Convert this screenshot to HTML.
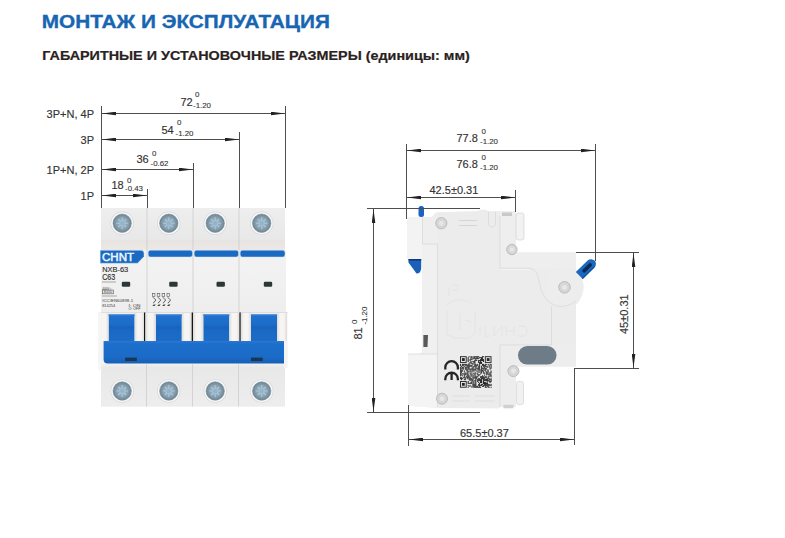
<!DOCTYPE html>
<html><head><meta charset="utf-8">
<style>
html,body{margin:0;padding:0;background:#fff;width:785px;height:538px;overflow:hidden}
svg{position:absolute;left:0;top:0}
text{font-family:"Liberation Sans",sans-serif}
</style></head>
<body>
<svg width="785" height="538" viewBox="0 0 785 538">
<defs>
  <marker id="ar" viewBox="0 0 14 4" refX="14" refY="2" markerWidth="14" markerHeight="4" markerUnits="userSpaceOnUse" orient="auto-start-reverse">
    <path d="M0,0.2 L14,2 L0,3.8 z" fill="#222"/>
  </marker>
  <linearGradient id="gTop" x1="0" y1="0" x2="0" y2="1"><stop offset="0" stop-color="#eeeeee"/><stop offset="1" stop-color="#e8e8e8"/></linearGradient>
  <linearGradient id="gBand" x1="0" y1="0" x2="0" y2="1"><stop offset="0" stop-color="#e6e3e1"/><stop offset="1" stop-color="#ebe8e6"/></linearGradient>
  <linearGradient id="gBot" x1="0" y1="0" x2="0" y2="1"><stop offset="0" stop-color="#f0f0f0"/><stop offset="0.08" stop-color="#e8e8e8"/><stop offset="1" stop-color="#ededed"/></linearGradient>
  <linearGradient id="gFace" x1="0" y1="0" x2="0" y2="1"><stop offset="0" stop-color="#f3f3f3"/><stop offset="1" stop-color="#eeeeee"/></linearGradient>
  <linearGradient id="gTog" x1="0" y1="0" x2="0" y2="1"><stop offset="0" stop-color="#2072cd"/><stop offset="0.35" stop-color="#1c6dc9"/><stop offset="0.45" stop-color="#1764bd"/><stop offset="0.6" stop-color="#1a69c4"/><stop offset="1" stop-color="#1d6cc8"/></linearGradient>
  <linearGradient id="gBar" x1="0" y1="0" x2="0" y2="1"><stop offset="0" stop-color="#2a7ad4"/><stop offset="0.12" stop-color="#1d6fcc"/><stop offset="0.75" stop-color="#1b6ac6"/><stop offset="1" stop-color="#155fb4"/></linearGradient>
  <radialGradient id="gScrew" cx="0.5" cy="0.5" r="0.5"><stop offset="0" stop-color="#a2c2d6"/><stop offset="0.6" stop-color="#8aa4b4"/><stop offset="1" stop-color="#6c8290"/></radialGradient>
  <linearGradient id="gPil" x1="0" y1="0" x2="1" y2="0"><stop offset="0" stop-color="#dedcdb"/><stop offset="0.3" stop-color="#f6f5f4"/><stop offset="0.7" stop-color="#f6f5f4"/><stop offset="1" stop-color="#dedcdb"/></linearGradient>
</defs>
<g id="front">
<rect x="101" y="208" width="184" height="198.5" fill="#e8e8e8"/>
<rect x="101" y="208" width="46" height="32" fill="url(#gTop)"/>
<rect x="101" y="240" width="46" height="10" fill="url(#gBand)"/>
<rect x="101" y="250" width="46" height="62" fill="url(#gFace)"/>
<rect x="101" y="364" width="46" height="42" fill="url(#gBot)"/>
<rect x="147" y="208" width="46" height="32" fill="url(#gTop)"/>
<rect x="147" y="240" width="46" height="10" fill="url(#gBand)"/>
<rect x="147" y="250" width="46" height="62" fill="url(#gFace)"/>
<rect x="147" y="364" width="46" height="42" fill="url(#gBot)"/>
<line x1="147" y1="208" x2="147" y2="312" stroke="#cdcdcd" stroke-width="0.8"/>
<line x1="146.5" y1="364" x2="146.5" y2="406.5" stroke="#cdcdcd" stroke-width="0.8"/>
<rect x="193" y="208" width="46" height="32" fill="url(#gTop)"/>
<rect x="193" y="240" width="46" height="10" fill="url(#gBand)"/>
<rect x="193" y="250" width="46" height="62" fill="url(#gFace)"/>
<rect x="193" y="364" width="46" height="42" fill="url(#gBot)"/>
<line x1="193" y1="208" x2="193" y2="312" stroke="#cdcdcd" stroke-width="0.8"/>
<line x1="192.5" y1="364" x2="192.5" y2="406.5" stroke="#cdcdcd" stroke-width="0.8"/>
<rect x="239" y="208" width="46" height="32" fill="url(#gTop)"/>
<rect x="239" y="240" width="46" height="10" fill="url(#gBand)"/>
<rect x="239" y="250" width="47" height="62" fill="url(#gFace)"/>
<rect x="239" y="364" width="46" height="42" fill="url(#gBot)"/>
<line x1="239" y1="208" x2="239" y2="312" stroke="#cdcdcd" stroke-width="0.8"/>
<line x1="238.5" y1="364" x2="238.5" y2="406.5" stroke="#cdcdcd" stroke-width="0.8"/>
<rect x="98.5" y="312" width="189" height="52" fill="#f4f3f2"/>
<rect x="98.5" y="312" width="189" height="1.2" fill="#dedede"/>
<rect x="108.6" y="314.5" width="26" height="28" fill="url(#gTog)"/>
<rect x="134.6" y="313" width="9.40" height="28.5" fill="url(#gPil)"/>
<rect x="99" y="313" width="9.60" height="28.5" fill="url(#gPil)"/>
<rect x="108.6" y="314.5" width="26" height="1.5" fill="#2c7bd4"/>
<rect x="144.0" y="312.5" width="1.4" height="29" fill="#161616"/>
<rect x="155.8" y="314.5" width="26" height="28" fill="url(#gTog)"/>
<rect x="181.8" y="313" width="9.90" height="28.5" fill="url(#gPil)"/>
<rect x="145.40" y="313" width="10.40" height="28.5" fill="url(#gPil)"/>
<rect x="155.8" y="314.5" width="26" height="1.5" fill="#2c7bd4"/>
<rect x="191.7" y="312.5" width="1.4" height="29" fill="#161616"/>
<rect x="203.3" y="314.5" width="26" height="28" fill="url(#gTog)"/>
<rect x="229.3" y="313" width="10.10" height="28.5" fill="url(#gPil)"/>
<rect x="193.10" y="313" width="10.20" height="28.5" fill="url(#gPil)"/>
<rect x="203.3" y="314.5" width="26" height="1.5" fill="#2c7bd4"/>
<rect x="239.4" y="312.5" width="1.4" height="29" fill="#161616"/>
<rect x="251.0" y="314.5" width="26" height="28" fill="url(#gTog)"/>
<rect x="277.0" y="313" width="10" height="28.5" fill="url(#gPil)"/>
<rect x="240.80" y="313" width="10.20" height="28.5" fill="url(#gPil)"/>
<rect x="251.0" y="314.5" width="26" height="1.5" fill="#2c7bd4"/>
<circle cx="122.2" cy="223.2" r="11.6" fill="#cfcfcf" opacity="0.8"/>
<circle cx="122.2" cy="223.2" r="11" fill="#f8f8f8"/>
<circle cx="122.2" cy="223.2" r="9.2" fill="url(#gScrew)" stroke="#7a8e9a" stroke-width="0.6"/>
<path d="M116.2,223.2 L128.2,223.2 M122.2,217.2 L122.2,229.2 M118.2,219.2 L126.2,227.2 M118.2,227.2 L126.2,219.2" stroke="#c2d8e6" stroke-width="1.1" opacity="0.6"/>
<circle cx="122.2" cy="223.2" r="2.2" fill="#95b3c6"/>
<circle cx="122.2" cy="391" r="11.6" fill="#cfcfcf" opacity="0.8"/>
<circle cx="122.2" cy="391" r="11" fill="#f8f8f8"/>
<circle cx="122.2" cy="391" r="9.2" fill="url(#gScrew)" stroke="#7a8e9a" stroke-width="0.6"/>
<path d="M116.2,391 L128.2,391 M122.2,385 L122.2,397 M118.2,387 L126.2,395 M118.2,395 L126.2,387" stroke="#c2d8e6" stroke-width="1.1" opacity="0.6"/>
<circle cx="122.2" cy="391" r="2.2" fill="#95b3c6"/>
<rect x="121.8" y="281.8" width="8.4" height="5" rx="1.2" fill="#2b3836"/>
<circle cx="168.8" cy="223.2" r="11.6" fill="#cfcfcf" opacity="0.8"/>
<circle cx="168.8" cy="223.2" r="11" fill="#f8f8f8"/>
<circle cx="168.8" cy="223.2" r="9.2" fill="url(#gScrew)" stroke="#7a8e9a" stroke-width="0.6"/>
<path d="M162.8,223.2 L174.8,223.2 M168.8,217.2 L168.8,229.2 M164.8,219.2 L172.8,227.2 M164.8,227.2 L172.8,219.2" stroke="#c2d8e6" stroke-width="1.1" opacity="0.6"/>
<circle cx="168.8" cy="223.2" r="2.2" fill="#95b3c6"/>
<circle cx="168.8" cy="391" r="11.6" fill="#cfcfcf" opacity="0.8"/>
<circle cx="168.8" cy="391" r="11" fill="#f8f8f8"/>
<circle cx="168.8" cy="391" r="9.2" fill="url(#gScrew)" stroke="#7a8e9a" stroke-width="0.6"/>
<path d="M162.8,391 L174.8,391 M168.8,385 L168.8,397 M164.8,387 L172.8,395 M164.8,395 L172.8,387" stroke="#c2d8e6" stroke-width="1.1" opacity="0.6"/>
<circle cx="168.8" cy="391" r="2.2" fill="#95b3c6"/>
<rect x="169.20000000000002" y="281.8" width="8.4" height="5" rx="1.2" fill="#2b3836"/>
<rect x="148.2" y="250.2" width="44.3" height="6.8" rx="2.2" fill="#1a6ac2" stroke="#cfe0f2" stroke-width="0.5"/>
<circle cx="215.2" cy="223.2" r="11.6" fill="#cfcfcf" opacity="0.8"/>
<circle cx="215.2" cy="223.2" r="11" fill="#f8f8f8"/>
<circle cx="215.2" cy="223.2" r="9.2" fill="url(#gScrew)" stroke="#7a8e9a" stroke-width="0.6"/>
<path d="M209.2,223.2 L221.2,223.2 M215.2,217.2 L215.2,229.2 M211.2,219.2 L219.2,227.2 M211.2,227.2 L219.2,219.2" stroke="#c2d8e6" stroke-width="1.1" opacity="0.6"/>
<circle cx="215.2" cy="223.2" r="2.2" fill="#95b3c6"/>
<circle cx="215.2" cy="391" r="11.6" fill="#cfcfcf" opacity="0.8"/>
<circle cx="215.2" cy="391" r="11" fill="#f8f8f8"/>
<circle cx="215.2" cy="391" r="9.2" fill="url(#gScrew)" stroke="#7a8e9a" stroke-width="0.6"/>
<path d="M209.2,391 L221.2,391 M215.2,385 L215.2,397 M211.2,387 L219.2,395 M211.2,395 L219.2,387" stroke="#c2d8e6" stroke-width="1.1" opacity="0.6"/>
<circle cx="215.2" cy="391" r="2.2" fill="#95b3c6"/>
<rect x="216.5" y="281.8" width="8.4" height="5" rx="1.2" fill="#2b3836"/>
<rect x="194.2" y="250.2" width="44.3" height="6.8" rx="2.2" fill="#1a6ac2" stroke="#cfe0f2" stroke-width="0.5"/>
<circle cx="261.7" cy="223.2" r="11.6" fill="#cfcfcf" opacity="0.8"/>
<circle cx="261.7" cy="223.2" r="11" fill="#f8f8f8"/>
<circle cx="261.7" cy="223.2" r="9.2" fill="url(#gScrew)" stroke="#7a8e9a" stroke-width="0.6"/>
<path d="M255.7,223.2 L267.7,223.2 M261.7,217.2 L261.7,229.2 M257.7,219.2 L265.7,227.2 M257.7,227.2 L265.7,219.2" stroke="#c2d8e6" stroke-width="1.1" opacity="0.6"/>
<circle cx="261.7" cy="223.2" r="2.2" fill="#95b3c6"/>
<circle cx="261.7" cy="391" r="11.6" fill="#cfcfcf" opacity="0.8"/>
<circle cx="261.7" cy="391" r="11" fill="#f8f8f8"/>
<circle cx="261.7" cy="391" r="9.2" fill="url(#gScrew)" stroke="#7a8e9a" stroke-width="0.6"/>
<path d="M255.7,391 L267.7,391 M261.7,385 L261.7,397 M257.7,387 L265.7,395 M257.7,395 L265.7,387" stroke="#c2d8e6" stroke-width="1.1" opacity="0.6"/>
<circle cx="261.7" cy="391" r="2.2" fill="#95b3c6"/>
<rect x="263.8" y="281.8" width="8.4" height="5" rx="1.2" fill="#2b3836"/>
<rect x="240.2" y="250.2" width="44.8" height="6.8" rx="2.2" fill="#1a6ac2" stroke="#cfe0f2" stroke-width="0.5"/>
<path d="M100.2,250.3 L141,250.3 Q144,250.3 144,253.3 L144,256.5 L137.5,263.3 L100.2,263.3 Z" fill="#1a6ac2" stroke="#cfe0f2" stroke-width="0.5"/>
<text x="102" y="260.8" font-size="10" fill="#eef6ff" stroke="#eef6ff" stroke-width="0.45" textLength="32" lengthAdjust="spacingAndGlyphs">CHNT</text>
<text x="102.2" y="271.5" font-size="7.6" fill="#2e2e2e" stroke="#2e2e2e" stroke-width="0.15" textLength="26" lengthAdjust="spacingAndGlyphs">NXB-63</text>
<text x="102.2" y="279.9" font-size="8.4" fill="#2e2e2e" stroke="#2e2e2e" stroke-width="0.15" textLength="13" lengthAdjust="spacingAndGlyphs">C63</text>
<line x1="102" y1="282" x2="116" y2="282" stroke="#777" stroke-width="0.6"/>
<text x="102.2" y="289.6" font-size="4" fill="#3a3a3a" textLength="9" lengthAdjust="spacingAndGlyphs">400V~</text>
<rect x="102.3" y="290" width="11" height="3.8" fill="none" stroke="#555" stroke-width="0.6"/>
<text x="103.2" y="293.2" font-size="3.2" fill="#444" textLength="9" lengthAdjust="spacingAndGlyphs">3000</text>
<line x1="102" y1="296" x2="117" y2="296" stroke="#777" stroke-width="0.6"/>
<text x="102.2" y="301.6" font-size="4" fill="#3a3a3a" textLength="31" lengthAdjust="spacingAndGlyphs">ICC/EN60898-1</text>
<text x="102.2" y="307.1" font-size="4" fill="#3a3a3a" textLength="13" lengthAdjust="spacingAndGlyphs">814254</text>
<text x="128.5" y="307" font-size="3.6" fill="#3a3a3a" textLength="12" lengthAdjust="spacingAndGlyphs">I: ON</text>
<text x="128.5" y="310.2" font-size="3.6" fill="#3a3a3a" textLength="12" lengthAdjust="spacingAndGlyphs">O: OFF</text>
<g fill="#3a3a3a">
<rect x="152.3" y="293.6" width="2.6" height="2.8" fill="none" stroke="#555" stroke-width="0.6"/>
<path d="M152.5,297.2 L155.5,300 L152.8,303.2 L153.60000000000002,303.2 L156.3,300 L153.3,297.2 Z"/>
<path d="M152.3,306 L153.8,304.4 L155.8,304.4 L154.5,306 Z"/>
<rect x="157.20000000000002" y="293.6" width="2.6" height="2.8" fill="none" stroke="#555" stroke-width="0.6"/>
<path d="M157.4,297.2 L160.4,300 L157.70000000000002,303.2 L158.50000000000003,303.2 L161.20000000000002,300 L158.20000000000002,297.2 Z"/>
<path d="M157.20000000000002,306 L158.70000000000002,304.4 L160.70000000000002,304.4 L159.4,306 Z"/>
<rect x="162.10000000000002" y="293.6" width="2.6" height="2.8" fill="none" stroke="#555" stroke-width="0.6"/>
<path d="M162.3,297.2 L165.3,300 L162.60000000000002,303.2 L163.40000000000003,303.2 L166.10000000000002,300 L163.10000000000002,297.2 Z"/>
<path d="M162.10000000000002,306 L163.60000000000002,304.4 L165.60000000000002,304.4 L164.3,306 Z"/>
<rect x="167.0" y="293.6" width="2.6" height="2.8" fill="none" stroke="#555" stroke-width="0.6"/>
<path d="M167.2,297.2 L170.2,300 L167.5,303.2 L168.3,303.2 L171.0,300 L168.0,297.2 Z"/>
<path d="M167.0,306 L168.5,304.4 L170.5,304.4 L169.2,306 Z"/>
</g>
<rect x="98.3" y="312" width="3" height="58" fill="#f6f5f4"/>
<path d="M103.6,341 L284,341 L284,363.4 L107.6,363.4 Q103.6,363.4 103.6,359.4 Z" fill="url(#gBar)"/>
<rect x="125.1" y="357.6" width="11.7" height="3.4" fill="#1b3555"/>
<rect x="251" y="357.6" width="11.7" height="3.4" fill="#1b3555"/>
<rect x="284" y="341" width="3.5" height="27" fill="#f3f3f3"/>
</g><g id="side">
<path d="M407,217 L423,217 L423,259 L407,259 Z" fill="#f3f3f3"/>
<path d="M422,217 L432,217 Q435,212.3 438.5,212.2 L478,211 L480,209.8 L486,209.8 L488,211 L516,211 L516,252.5 L576,252.5 L576,366.5 L516,366.5 L516,407 L500,407 L499,408.5 L440,408 L411,406 Q408,405.5 408,403 L408,354 L420,354 L422,352 Z" fill="#ececec"/>
<path d="M408,354 L437,354 L437,407.5 L411,406 Q408,405.5 408,403 Z" fill="#f4f4f4"/>
<path d="M422,244 L437.5,244 L437.5,354 L422,354 Z" fill="#f0f0f0"/>
<path d="M422,217 L432,217 Q435,212.3 437.5,212.2 L437.5,244 L422,244 Z" fill="#eeeeee"/>
<path d="M500,345 L556,345 L576,345 L576,366.5 L516,366.5 L516,407 L500,407 Z" fill="#ededed"/>
<path d="M500,211 L516,211 L516,252.5 L576,252.5 L576,268.3 L500,268.3 Z" fill="#eeeeee"/>
<path d="M500.5,269.3 L530,269.3" stroke="#f7f7f7" stroke-width="1"/>
<circle cx="564.5" cy="287.3" r="19" fill="#ededed"/>
<path d="M576,270 Q584,278 583.5,287.3 Q583,298 576,305" fill="#ededed"/>
<g fill="none" stroke="#d9d9d9" stroke-width="0.8">
<path d="M422.5,217 L422.5,244 L437.5,244 L437.5,407"/>
<path d="M500,216 L500,268.3 L530,268.3 Q537,269 539,281 Q542,301 556,306 Q567,308 576,301"/>
<path d="M551.5,306 L551.5,345 L500,345 L500,407"/>
<path d="M408,354 L437.5,354"/>
<path d="M488.5,212 L488.5,225 Q492,229 495.5,225 L495.5,212"/>
<path d="M459,220.5 L477,220.5 M459,225.5 L477,225.5" stroke="#cfcfcf"/>
<path d="M452,396 L470,396 M475,396 L495,396 M452,401 L470,401 M475,401 L495,401" stroke="#dcdcdc"/>
</g>
<g fill="none" stroke="#e3e3e3" stroke-width="0.9">
<path d="M449,287 L449,296 M452,285 L458,285 L458,290 L452,290 M447,305 Q452,299 463,300 Q470,301 473,306 M447,310 L447,335 L455,338 L470,338 L475,333 L475,312 M460,313 L460,330 M465,320 L472,322"/>
<path d="M480,326 L480,336 M485,326 L485,336 L490,336 M494,326 L494,336 L502,326 L502,336 M506,326 L506,336 M506,331 L514,331 M514,326 L514,336 M518,326 L525,326 Q529,331 525,336 L518,336"/>
</g>
<rect x="516" y="213" width="8" height="27" rx="2.5" fill="#f2f2f2" stroke="#d2d2d2" stroke-width="0.7"/>
<rect x="516.5" y="381.5" width="7" height="23" rx="2" fill="#f1f1f1" stroke="#d4d4d4" stroke-width="0.7"/>
<rect x="502" y="212.5" width="10" height="3.5" fill="#c8c8c8"/>
<rect x="503.4" y="404.8" width="10" height="3.5" fill="#d0d0d0"/>
<rect x="418.5" y="206" width="5.5" height="11" rx="2.5" fill="#1b63c0"/>
<path d="M408.5,259 L421.2,259 L421.2,268 Q421,273.5 416.5,273.5 L408.5,262.5 Z" fill="#1a5fb8"/>
<rect x="408.5" y="259" width="12.7" height="1.6" fill="#0e3a78"/>
<path d="M423.4,335 L428,335 L427.5,347 L423.4,347 Z" fill="#595959"/>
<circle cx="441.3" cy="223.2" r="5.6" fill="#d6d6d6" stroke="#bcbcbc" stroke-width="1"/>
<circle cx="441.3" cy="223.2" r="2.52" fill="#e6e6e6"/>
<circle cx="511.9" cy="249.5" r="5.2" fill="#d6d6d6" stroke="#bcbcbc" stroke-width="1"/>
<circle cx="511.9" cy="249.5" r="2.34" fill="#e6e6e6"/>
<circle cx="564.5" cy="287.3" r="5.8" fill="#d6d6d6" stroke="#bcbcbc" stroke-width="1"/>
<circle cx="564.5" cy="287.3" r="2.61" fill="#e6e6e6"/>
<circle cx="513.4" cy="371.1" r="5.5" fill="#d6d6d6" stroke="#bcbcbc" stroke-width="1"/>
<circle cx="513.4" cy="371.1" r="2.48" fill="#e6e6e6"/>
<circle cx="442" cy="398.7" r="5.5" fill="#d6d6d6" stroke="#bcbcbc" stroke-width="1"/>
<circle cx="442" cy="398.7" r="2.48" fill="#e6e6e6"/>
<rect x="518" y="346" width="38.5" height="18.6" rx="9.3" fill="#6e7c87"/>
<g transform="translate(579.3,275.6) rotate(-44.5)"><path d="M0,-4.9 L16.5,-4.9 A4.9,4.9 0 0 1 16.5,4.9 L0,4.9 Z" fill="#1b66bf"/><path d="M0,3.6 L17,3.6 L16.5,4.9 L0,4.9 Z" fill="#114f9c"/><rect x="5" y="-1.9" width="12" height="3.8" rx="1.9" fill="#0b2a52"/></g>
<path d="M445.3,369.5 L445.3,367.5 A6.3,6.3 0 0 1 457.9,367.5 L457.9,369.5" fill="none" stroke="#262626" stroke-width="2.3"/>
<path d="M445.3,380.3 L445.3,379 A6.3,6.3 0 0 1 457.9,379 L457.9,380.3 M451.6,373 L451.6,380" fill="none" stroke="#262626" stroke-width="2.3"/>
<g fill="#262626">
<rect x="460.00" y="363.84" width="1.05" height="1.05"/>
<rect x="460.00" y="364.79" width="1.05" height="1.05"/>
<rect x="460.00" y="366.70" width="1.05" height="1.05"/>
<rect x="460.00" y="367.65" width="1.05" height="1.05"/>
<rect x="460.00" y="368.61" width="1.05" height="1.05"/>
<rect x="460.00" y="369.56" width="1.05" height="1.05"/>
<rect x="460.00" y="370.52" width="1.05" height="1.05"/>
<rect x="460.00" y="371.47" width="1.05" height="1.05"/>
<rect x="460.00" y="372.43" width="1.05" height="1.05"/>
<rect x="460.00" y="373.38" width="1.05" height="1.05"/>
<rect x="460.00" y="374.34" width="1.05" height="1.05"/>
<rect x="460.00" y="375.29" width="1.05" height="1.05"/>
<rect x="460.00" y="377.20" width="1.05" height="1.05"/>
<rect x="460.00" y="378.15" width="1.05" height="1.05"/>
<rect x="460.95" y="365.75" width="1.05" height="1.05"/>
<rect x="460.95" y="367.65" width="1.05" height="1.05"/>
<rect x="460.95" y="369.56" width="1.05" height="1.05"/>
<rect x="460.95" y="370.52" width="1.05" height="1.05"/>
<rect x="460.95" y="371.47" width="1.05" height="1.05"/>
<rect x="460.95" y="372.43" width="1.05" height="1.05"/>
<rect x="460.95" y="374.34" width="1.05" height="1.05"/>
<rect x="460.95" y="377.20" width="1.05" height="1.05"/>
<rect x="460.95" y="378.15" width="1.05" height="1.05"/>
<rect x="460.95" y="379.11" width="1.05" height="1.05"/>
<rect x="461.91" y="363.84" width="1.05" height="1.05"/>
<rect x="461.91" y="364.79" width="1.05" height="1.05"/>
<rect x="461.91" y="366.70" width="1.05" height="1.05"/>
<rect x="461.91" y="367.65" width="1.05" height="1.05"/>
<rect x="461.91" y="369.56" width="1.05" height="1.05"/>
<rect x="461.91" y="370.52" width="1.05" height="1.05"/>
<rect x="461.91" y="373.38" width="1.05" height="1.05"/>
<rect x="461.91" y="375.29" width="1.05" height="1.05"/>
<rect x="461.91" y="378.15" width="1.05" height="1.05"/>
<rect x="462.86" y="363.84" width="1.05" height="1.05"/>
<rect x="462.86" y="364.79" width="1.05" height="1.05"/>
<rect x="462.86" y="366.70" width="1.05" height="1.05"/>
<rect x="462.86" y="367.65" width="1.05" height="1.05"/>
<rect x="462.86" y="368.61" width="1.05" height="1.05"/>
<rect x="462.86" y="373.38" width="1.05" height="1.05"/>
<rect x="462.86" y="377.20" width="1.05" height="1.05"/>
<rect x="463.82" y="363.84" width="1.05" height="1.05"/>
<rect x="463.82" y="365.75" width="1.05" height="1.05"/>
<rect x="463.82" y="370.52" width="1.05" height="1.05"/>
<rect x="463.82" y="371.47" width="1.05" height="1.05"/>
<rect x="463.82" y="373.38" width="1.05" height="1.05"/>
<rect x="463.82" y="374.34" width="1.05" height="1.05"/>
<rect x="463.82" y="375.29" width="1.05" height="1.05"/>
<rect x="463.82" y="376.25" width="1.05" height="1.05"/>
<rect x="463.82" y="377.20" width="1.05" height="1.05"/>
<rect x="463.82" y="379.11" width="1.05" height="1.05"/>
<rect x="464.77" y="363.84" width="1.05" height="1.05"/>
<rect x="464.77" y="364.79" width="1.05" height="1.05"/>
<rect x="464.77" y="366.70" width="1.05" height="1.05"/>
<rect x="464.77" y="367.65" width="1.05" height="1.05"/>
<rect x="464.77" y="368.61" width="1.05" height="1.05"/>
<rect x="464.77" y="372.43" width="1.05" height="1.05"/>
<rect x="464.77" y="373.38" width="1.05" height="1.05"/>
<rect x="464.77" y="374.34" width="1.05" height="1.05"/>
<rect x="464.77" y="377.20" width="1.05" height="1.05"/>
<rect x="464.77" y="378.15" width="1.05" height="1.05"/>
<rect x="464.77" y="379.11" width="1.05" height="1.05"/>
<rect x="465.73" y="363.84" width="1.05" height="1.05"/>
<rect x="465.73" y="364.79" width="1.05" height="1.05"/>
<rect x="465.73" y="366.70" width="1.05" height="1.05"/>
<rect x="465.73" y="367.65" width="1.05" height="1.05"/>
<rect x="465.73" y="368.61" width="1.05" height="1.05"/>
<rect x="465.73" y="369.56" width="1.05" height="1.05"/>
<rect x="465.73" y="373.38" width="1.05" height="1.05"/>
<rect x="465.73" y="376.25" width="1.05" height="1.05"/>
<rect x="466.68" y="364.79" width="1.05" height="1.05"/>
<rect x="466.68" y="365.75" width="1.05" height="1.05"/>
<rect x="466.68" y="366.70" width="1.05" height="1.05"/>
<rect x="466.68" y="368.61" width="1.05" height="1.05"/>
<rect x="466.68" y="369.56" width="1.05" height="1.05"/>
<rect x="466.68" y="370.52" width="1.05" height="1.05"/>
<rect x="466.68" y="371.47" width="1.05" height="1.05"/>
<rect x="466.68" y="372.43" width="1.05" height="1.05"/>
<rect x="466.68" y="373.38" width="1.05" height="1.05"/>
<rect x="466.68" y="374.34" width="1.05" height="1.05"/>
<rect x="466.68" y="375.29" width="1.05" height="1.05"/>
<rect x="466.68" y="376.25" width="1.05" height="1.05"/>
<rect x="466.68" y="377.20" width="1.05" height="1.05"/>
<rect x="466.68" y="378.15" width="1.05" height="1.05"/>
<rect x="467.64" y="357.15" width="1.05" height="1.05"/>
<rect x="467.64" y="358.11" width="1.05" height="1.05"/>
<rect x="467.64" y="359.06" width="1.05" height="1.05"/>
<rect x="467.64" y="360.02" width="1.05" height="1.05"/>
<rect x="467.64" y="360.97" width="1.05" height="1.05"/>
<rect x="467.64" y="363.84" width="1.05" height="1.05"/>
<rect x="467.64" y="364.79" width="1.05" height="1.05"/>
<rect x="467.64" y="365.75" width="1.05" height="1.05"/>
<rect x="467.64" y="366.70" width="1.05" height="1.05"/>
<rect x="467.64" y="367.65" width="1.05" height="1.05"/>
<rect x="467.64" y="368.61" width="1.05" height="1.05"/>
<rect x="467.64" y="370.52" width="1.05" height="1.05"/>
<rect x="467.64" y="371.47" width="1.05" height="1.05"/>
<rect x="467.64" y="373.38" width="1.05" height="1.05"/>
<rect x="467.64" y="374.34" width="1.05" height="1.05"/>
<rect x="467.64" y="375.29" width="1.05" height="1.05"/>
<rect x="467.64" y="376.25" width="1.05" height="1.05"/>
<rect x="467.64" y="377.20" width="1.05" height="1.05"/>
<rect x="467.64" y="381.02" width="1.05" height="1.05"/>
<rect x="467.64" y="381.97" width="1.05" height="1.05"/>
<rect x="467.64" y="382.93" width="1.05" height="1.05"/>
<rect x="467.64" y="384.84" width="1.05" height="1.05"/>
<rect x="467.64" y="386.75" width="1.05" height="1.05"/>
<rect x="468.59" y="356.20" width="1.05" height="1.05"/>
<rect x="468.59" y="362.88" width="1.05" height="1.05"/>
<rect x="468.59" y="363.84" width="1.05" height="1.05"/>
<rect x="468.59" y="364.79" width="1.05" height="1.05"/>
<rect x="468.59" y="365.75" width="1.05" height="1.05"/>
<rect x="468.59" y="366.70" width="1.05" height="1.05"/>
<rect x="468.59" y="367.65" width="1.05" height="1.05"/>
<rect x="468.59" y="368.61" width="1.05" height="1.05"/>
<rect x="468.59" y="371.47" width="1.05" height="1.05"/>
<rect x="468.59" y="375.29" width="1.05" height="1.05"/>
<rect x="468.59" y="376.25" width="1.05" height="1.05"/>
<rect x="468.59" y="377.20" width="1.05" height="1.05"/>
<rect x="468.59" y="378.15" width="1.05" height="1.05"/>
<rect x="468.59" y="379.11" width="1.05" height="1.05"/>
<rect x="468.59" y="382.93" width="1.05" height="1.05"/>
<rect x="468.59" y="385.79" width="1.05" height="1.05"/>
<rect x="469.55" y="359.06" width="1.05" height="1.05"/>
<rect x="469.55" y="360.02" width="1.05" height="1.05"/>
<rect x="469.55" y="361.93" width="1.05" height="1.05"/>
<rect x="469.55" y="364.79" width="1.05" height="1.05"/>
<rect x="469.55" y="365.75" width="1.05" height="1.05"/>
<rect x="469.55" y="368.61" width="1.05" height="1.05"/>
<rect x="469.55" y="369.56" width="1.05" height="1.05"/>
<rect x="469.55" y="370.52" width="1.05" height="1.05"/>
<rect x="469.55" y="373.38" width="1.05" height="1.05"/>
<rect x="469.55" y="377.20" width="1.05" height="1.05"/>
<rect x="469.55" y="378.15" width="1.05" height="1.05"/>
<rect x="469.55" y="379.11" width="1.05" height="1.05"/>
<rect x="469.55" y="380.06" width="1.05" height="1.05"/>
<rect x="469.55" y="382.93" width="1.05" height="1.05"/>
<rect x="469.55" y="384.84" width="1.05" height="1.05"/>
<rect x="470.50" y="356.20" width="1.05" height="1.05"/>
<rect x="470.50" y="357.15" width="1.05" height="1.05"/>
<rect x="470.50" y="358.11" width="1.05" height="1.05"/>
<rect x="470.50" y="359.06" width="1.05" height="1.05"/>
<rect x="470.50" y="360.97" width="1.05" height="1.05"/>
<rect x="470.50" y="361.93" width="1.05" height="1.05"/>
<rect x="470.50" y="362.88" width="1.05" height="1.05"/>
<rect x="470.50" y="364.79" width="1.05" height="1.05"/>
<rect x="470.50" y="365.75" width="1.05" height="1.05"/>
<rect x="470.50" y="368.61" width="1.05" height="1.05"/>
<rect x="470.50" y="370.52" width="1.05" height="1.05"/>
<rect x="470.50" y="371.47" width="1.05" height="1.05"/>
<rect x="470.50" y="372.43" width="1.05" height="1.05"/>
<rect x="470.50" y="373.38" width="1.05" height="1.05"/>
<rect x="470.50" y="374.34" width="1.05" height="1.05"/>
<rect x="470.50" y="375.29" width="1.05" height="1.05"/>
<rect x="470.50" y="376.25" width="1.05" height="1.05"/>
<rect x="470.50" y="378.15" width="1.05" height="1.05"/>
<rect x="470.50" y="379.11" width="1.05" height="1.05"/>
<rect x="470.50" y="381.97" width="1.05" height="1.05"/>
<rect x="470.50" y="382.93" width="1.05" height="1.05"/>
<rect x="470.50" y="385.79" width="1.05" height="1.05"/>
<rect x="471.45" y="356.20" width="1.05" height="1.05"/>
<rect x="471.45" y="357.15" width="1.05" height="1.05"/>
<rect x="471.45" y="359.06" width="1.05" height="1.05"/>
<rect x="471.45" y="362.88" width="1.05" height="1.05"/>
<rect x="471.45" y="364.79" width="1.05" height="1.05"/>
<rect x="471.45" y="365.75" width="1.05" height="1.05"/>
<rect x="471.45" y="367.65" width="1.05" height="1.05"/>
<rect x="471.45" y="368.61" width="1.05" height="1.05"/>
<rect x="471.45" y="369.56" width="1.05" height="1.05"/>
<rect x="471.45" y="374.34" width="1.05" height="1.05"/>
<rect x="471.45" y="378.15" width="1.05" height="1.05"/>
<rect x="471.45" y="379.11" width="1.05" height="1.05"/>
<rect x="471.45" y="380.06" width="1.05" height="1.05"/>
<rect x="471.45" y="381.02" width="1.05" height="1.05"/>
<rect x="471.45" y="381.97" width="1.05" height="1.05"/>
<rect x="471.45" y="382.93" width="1.05" height="1.05"/>
<rect x="471.45" y="386.75" width="1.05" height="1.05"/>
<rect x="472.41" y="358.11" width="1.05" height="1.05"/>
<rect x="472.41" y="360.97" width="1.05" height="1.05"/>
<rect x="472.41" y="362.88" width="1.05" height="1.05"/>
<rect x="472.41" y="363.84" width="1.05" height="1.05"/>
<rect x="472.41" y="366.70" width="1.05" height="1.05"/>
<rect x="472.41" y="367.65" width="1.05" height="1.05"/>
<rect x="472.41" y="368.61" width="1.05" height="1.05"/>
<rect x="472.41" y="369.56" width="1.05" height="1.05"/>
<rect x="472.41" y="370.52" width="1.05" height="1.05"/>
<rect x="472.41" y="371.47" width="1.05" height="1.05"/>
<rect x="472.41" y="373.38" width="1.05" height="1.05"/>
<rect x="472.41" y="375.29" width="1.05" height="1.05"/>
<rect x="472.41" y="376.25" width="1.05" height="1.05"/>
<rect x="472.41" y="377.20" width="1.05" height="1.05"/>
<rect x="472.41" y="379.11" width="1.05" height="1.05"/>
<rect x="472.41" y="380.06" width="1.05" height="1.05"/>
<rect x="472.41" y="383.88" width="1.05" height="1.05"/>
<rect x="472.41" y="384.84" width="1.05" height="1.05"/>
<rect x="472.41" y="385.79" width="1.05" height="1.05"/>
<rect x="473.36" y="356.20" width="1.05" height="1.05"/>
<rect x="473.36" y="357.15" width="1.05" height="1.05"/>
<rect x="473.36" y="358.11" width="1.05" height="1.05"/>
<rect x="473.36" y="360.97" width="1.05" height="1.05"/>
<rect x="473.36" y="361.93" width="1.05" height="1.05"/>
<rect x="473.36" y="365.75" width="1.05" height="1.05"/>
<rect x="473.36" y="366.70" width="1.05" height="1.05"/>
<rect x="473.36" y="368.61" width="1.05" height="1.05"/>
<rect x="473.36" y="369.56" width="1.05" height="1.05"/>
<rect x="473.36" y="373.38" width="1.05" height="1.05"/>
<rect x="473.36" y="375.29" width="1.05" height="1.05"/>
<rect x="473.36" y="377.20" width="1.05" height="1.05"/>
<rect x="473.36" y="378.15" width="1.05" height="1.05"/>
<rect x="473.36" y="381.02" width="1.05" height="1.05"/>
<rect x="473.36" y="381.97" width="1.05" height="1.05"/>
<rect x="473.36" y="382.93" width="1.05" height="1.05"/>
<rect x="473.36" y="383.88" width="1.05" height="1.05"/>
<rect x="473.36" y="384.84" width="1.05" height="1.05"/>
<rect x="473.36" y="385.79" width="1.05" height="1.05"/>
<rect x="473.36" y="386.75" width="1.05" height="1.05"/>
<rect x="474.32" y="356.20" width="1.05" height="1.05"/>
<rect x="474.32" y="357.15" width="1.05" height="1.05"/>
<rect x="474.32" y="358.11" width="1.05" height="1.05"/>
<rect x="474.32" y="360.02" width="1.05" height="1.05"/>
<rect x="474.32" y="360.97" width="1.05" height="1.05"/>
<rect x="474.32" y="361.93" width="1.05" height="1.05"/>
<rect x="474.32" y="362.88" width="1.05" height="1.05"/>
<rect x="474.32" y="363.84" width="1.05" height="1.05"/>
<rect x="474.32" y="364.79" width="1.05" height="1.05"/>
<rect x="474.32" y="365.75" width="1.05" height="1.05"/>
<rect x="474.32" y="368.61" width="1.05" height="1.05"/>
<rect x="474.32" y="369.56" width="1.05" height="1.05"/>
<rect x="474.32" y="371.47" width="1.05" height="1.05"/>
<rect x="474.32" y="373.38" width="1.05" height="1.05"/>
<rect x="474.32" y="374.34" width="1.05" height="1.05"/>
<rect x="474.32" y="376.25" width="1.05" height="1.05"/>
<rect x="474.32" y="377.20" width="1.05" height="1.05"/>
<rect x="474.32" y="380.06" width="1.05" height="1.05"/>
<rect x="474.32" y="383.88" width="1.05" height="1.05"/>
<rect x="474.32" y="384.84" width="1.05" height="1.05"/>
<rect x="474.32" y="385.79" width="1.05" height="1.05"/>
<rect x="474.32" y="386.75" width="1.05" height="1.05"/>
<rect x="475.27" y="356.20" width="1.05" height="1.05"/>
<rect x="475.27" y="358.11" width="1.05" height="1.05"/>
<rect x="475.27" y="359.06" width="1.05" height="1.05"/>
<rect x="475.27" y="360.02" width="1.05" height="1.05"/>
<rect x="475.27" y="363.84" width="1.05" height="1.05"/>
<rect x="475.27" y="364.79" width="1.05" height="1.05"/>
<rect x="475.27" y="365.75" width="1.05" height="1.05"/>
<rect x="475.27" y="366.70" width="1.05" height="1.05"/>
<rect x="475.27" y="367.65" width="1.05" height="1.05"/>
<rect x="475.27" y="368.61" width="1.05" height="1.05"/>
<rect x="475.27" y="369.56" width="1.05" height="1.05"/>
<rect x="475.27" y="372.43" width="1.05" height="1.05"/>
<rect x="475.27" y="373.38" width="1.05" height="1.05"/>
<rect x="475.27" y="375.29" width="1.05" height="1.05"/>
<rect x="475.27" y="376.25" width="1.05" height="1.05"/>
<rect x="475.27" y="377.20" width="1.05" height="1.05"/>
<rect x="475.27" y="378.15" width="1.05" height="1.05"/>
<rect x="475.27" y="379.11" width="1.05" height="1.05"/>
<rect x="475.27" y="380.06" width="1.05" height="1.05"/>
<rect x="475.27" y="381.02" width="1.05" height="1.05"/>
<rect x="475.27" y="381.97" width="1.05" height="1.05"/>
<rect x="475.27" y="382.93" width="1.05" height="1.05"/>
<rect x="475.27" y="383.88" width="1.05" height="1.05"/>
<rect x="475.27" y="384.84" width="1.05" height="1.05"/>
<rect x="475.27" y="385.79" width="1.05" height="1.05"/>
<rect x="475.27" y="386.75" width="1.05" height="1.05"/>
<rect x="476.23" y="356.20" width="1.05" height="1.05"/>
<rect x="476.23" y="357.15" width="1.05" height="1.05"/>
<rect x="476.23" y="358.11" width="1.05" height="1.05"/>
<rect x="476.23" y="360.02" width="1.05" height="1.05"/>
<rect x="476.23" y="364.79" width="1.05" height="1.05"/>
<rect x="476.23" y="365.75" width="1.05" height="1.05"/>
<rect x="476.23" y="367.65" width="1.05" height="1.05"/>
<rect x="476.23" y="370.52" width="1.05" height="1.05"/>
<rect x="476.23" y="376.25" width="1.05" height="1.05"/>
<rect x="476.23" y="377.20" width="1.05" height="1.05"/>
<rect x="476.23" y="378.15" width="1.05" height="1.05"/>
<rect x="476.23" y="385.79" width="1.05" height="1.05"/>
<rect x="476.23" y="386.75" width="1.05" height="1.05"/>
<rect x="477.18" y="356.20" width="1.05" height="1.05"/>
<rect x="477.18" y="357.15" width="1.05" height="1.05"/>
<rect x="477.18" y="358.11" width="1.05" height="1.05"/>
<rect x="477.18" y="363.84" width="1.05" height="1.05"/>
<rect x="477.18" y="364.79" width="1.05" height="1.05"/>
<rect x="477.18" y="367.65" width="1.05" height="1.05"/>
<rect x="477.18" y="368.61" width="1.05" height="1.05"/>
<rect x="477.18" y="370.52" width="1.05" height="1.05"/>
<rect x="477.18" y="372.43" width="1.05" height="1.05"/>
<rect x="477.18" y="373.38" width="1.05" height="1.05"/>
<rect x="477.18" y="374.34" width="1.05" height="1.05"/>
<rect x="477.18" y="376.25" width="1.05" height="1.05"/>
<rect x="477.18" y="379.11" width="1.05" height="1.05"/>
<rect x="477.18" y="380.06" width="1.05" height="1.05"/>
<rect x="477.18" y="381.02" width="1.05" height="1.05"/>
<rect x="477.18" y="385.79" width="1.05" height="1.05"/>
<rect x="477.18" y="386.75" width="1.05" height="1.05"/>
<rect x="478.14" y="356.20" width="1.05" height="1.05"/>
<rect x="478.14" y="358.11" width="1.05" height="1.05"/>
<rect x="478.14" y="360.02" width="1.05" height="1.05"/>
<rect x="478.14" y="360.97" width="1.05" height="1.05"/>
<rect x="478.14" y="361.93" width="1.05" height="1.05"/>
<rect x="478.14" y="365.75" width="1.05" height="1.05"/>
<rect x="478.14" y="366.70" width="1.05" height="1.05"/>
<rect x="478.14" y="367.65" width="1.05" height="1.05"/>
<rect x="478.14" y="368.61" width="1.05" height="1.05"/>
<rect x="478.14" y="369.56" width="1.05" height="1.05"/>
<rect x="478.14" y="371.47" width="1.05" height="1.05"/>
<rect x="478.14" y="374.34" width="1.05" height="1.05"/>
<rect x="478.14" y="375.29" width="1.05" height="1.05"/>
<rect x="478.14" y="378.15" width="1.05" height="1.05"/>
<rect x="478.14" y="379.11" width="1.05" height="1.05"/>
<rect x="478.14" y="380.06" width="1.05" height="1.05"/>
<rect x="478.14" y="381.97" width="1.05" height="1.05"/>
<rect x="478.14" y="383.88" width="1.05" height="1.05"/>
<rect x="478.14" y="384.84" width="1.05" height="1.05"/>
<rect x="478.14" y="386.75" width="1.05" height="1.05"/>
<rect x="479.09" y="357.15" width="1.05" height="1.05"/>
<rect x="479.09" y="360.02" width="1.05" height="1.05"/>
<rect x="479.09" y="361.93" width="1.05" height="1.05"/>
<rect x="479.09" y="362.88" width="1.05" height="1.05"/>
<rect x="479.09" y="363.84" width="1.05" height="1.05"/>
<rect x="479.09" y="364.79" width="1.05" height="1.05"/>
<rect x="479.09" y="365.75" width="1.05" height="1.05"/>
<rect x="479.09" y="366.70" width="1.05" height="1.05"/>
<rect x="479.09" y="367.65" width="1.05" height="1.05"/>
<rect x="479.09" y="368.61" width="1.05" height="1.05"/>
<rect x="479.09" y="369.56" width="1.05" height="1.05"/>
<rect x="479.09" y="371.47" width="1.05" height="1.05"/>
<rect x="479.09" y="374.34" width="1.05" height="1.05"/>
<rect x="479.09" y="378.15" width="1.05" height="1.05"/>
<rect x="479.09" y="379.11" width="1.05" height="1.05"/>
<rect x="479.09" y="380.06" width="1.05" height="1.05"/>
<rect x="479.09" y="382.93" width="1.05" height="1.05"/>
<rect x="479.09" y="383.88" width="1.05" height="1.05"/>
<rect x="479.09" y="384.84" width="1.05" height="1.05"/>
<rect x="479.09" y="385.79" width="1.05" height="1.05"/>
<rect x="479.09" y="386.75" width="1.05" height="1.05"/>
<rect x="480.05" y="357.15" width="1.05" height="1.05"/>
<rect x="480.05" y="359.06" width="1.05" height="1.05"/>
<rect x="480.05" y="360.02" width="1.05" height="1.05"/>
<rect x="480.05" y="360.97" width="1.05" height="1.05"/>
<rect x="480.05" y="361.93" width="1.05" height="1.05"/>
<rect x="480.05" y="362.88" width="1.05" height="1.05"/>
<rect x="480.05" y="369.56" width="1.05" height="1.05"/>
<rect x="480.05" y="371.47" width="1.05" height="1.05"/>
<rect x="480.05" y="373.38" width="1.05" height="1.05"/>
<rect x="480.05" y="376.25" width="1.05" height="1.05"/>
<rect x="480.05" y="377.20" width="1.05" height="1.05"/>
<rect x="480.05" y="379.11" width="1.05" height="1.05"/>
<rect x="480.05" y="380.06" width="1.05" height="1.05"/>
<rect x="480.05" y="381.02" width="1.05" height="1.05"/>
<rect x="480.05" y="381.97" width="1.05" height="1.05"/>
<rect x="480.05" y="384.84" width="1.05" height="1.05"/>
<rect x="480.05" y="386.75" width="1.05" height="1.05"/>
<rect x="481.00" y="357.15" width="1.05" height="1.05"/>
<rect x="481.00" y="358.11" width="1.05" height="1.05"/>
<rect x="481.00" y="359.06" width="1.05" height="1.05"/>
<rect x="481.00" y="360.02" width="1.05" height="1.05"/>
<rect x="481.00" y="361.93" width="1.05" height="1.05"/>
<rect x="481.00" y="362.88" width="1.05" height="1.05"/>
<rect x="481.00" y="365.75" width="1.05" height="1.05"/>
<rect x="481.00" y="366.70" width="1.05" height="1.05"/>
<rect x="481.00" y="367.65" width="1.05" height="1.05"/>
<rect x="481.00" y="368.61" width="1.05" height="1.05"/>
<rect x="481.00" y="369.56" width="1.05" height="1.05"/>
<rect x="481.00" y="370.52" width="1.05" height="1.05"/>
<rect x="481.00" y="371.47" width="1.05" height="1.05"/>
<rect x="481.00" y="372.43" width="1.05" height="1.05"/>
<rect x="481.00" y="376.25" width="1.05" height="1.05"/>
<rect x="481.00" y="377.20" width="1.05" height="1.05"/>
<rect x="481.00" y="378.15" width="1.05" height="1.05"/>
<rect x="481.00" y="379.11" width="1.05" height="1.05"/>
<rect x="481.00" y="380.06" width="1.05" height="1.05"/>
<rect x="481.00" y="381.02" width="1.05" height="1.05"/>
<rect x="481.00" y="381.97" width="1.05" height="1.05"/>
<rect x="481.00" y="383.88" width="1.05" height="1.05"/>
<rect x="481.00" y="384.84" width="1.05" height="1.05"/>
<rect x="481.95" y="356.20" width="1.05" height="1.05"/>
<rect x="481.95" y="357.15" width="1.05" height="1.05"/>
<rect x="481.95" y="358.11" width="1.05" height="1.05"/>
<rect x="481.95" y="359.06" width="1.05" height="1.05"/>
<rect x="481.95" y="360.02" width="1.05" height="1.05"/>
<rect x="481.95" y="363.84" width="1.05" height="1.05"/>
<rect x="481.95" y="364.79" width="1.05" height="1.05"/>
<rect x="481.95" y="367.65" width="1.05" height="1.05"/>
<rect x="481.95" y="369.56" width="1.05" height="1.05"/>
<rect x="481.95" y="370.52" width="1.05" height="1.05"/>
<rect x="481.95" y="375.29" width="1.05" height="1.05"/>
<rect x="481.95" y="376.25" width="1.05" height="1.05"/>
<rect x="481.95" y="377.20" width="1.05" height="1.05"/>
<rect x="481.95" y="378.15" width="1.05" height="1.05"/>
<rect x="481.95" y="383.88" width="1.05" height="1.05"/>
<rect x="481.95" y="385.79" width="1.05" height="1.05"/>
<rect x="482.91" y="356.20" width="1.05" height="1.05"/>
<rect x="482.91" y="359.06" width="1.05" height="1.05"/>
<rect x="482.91" y="360.02" width="1.05" height="1.05"/>
<rect x="482.91" y="360.97" width="1.05" height="1.05"/>
<rect x="482.91" y="363.84" width="1.05" height="1.05"/>
<rect x="482.91" y="364.79" width="1.05" height="1.05"/>
<rect x="482.91" y="365.75" width="1.05" height="1.05"/>
<rect x="482.91" y="367.65" width="1.05" height="1.05"/>
<rect x="482.91" y="368.61" width="1.05" height="1.05"/>
<rect x="482.91" y="370.52" width="1.05" height="1.05"/>
<rect x="482.91" y="371.47" width="1.05" height="1.05"/>
<rect x="482.91" y="372.43" width="1.05" height="1.05"/>
<rect x="482.91" y="376.25" width="1.05" height="1.05"/>
<rect x="482.91" y="377.20" width="1.05" height="1.05"/>
<rect x="482.91" y="378.15" width="1.05" height="1.05"/>
<rect x="482.91" y="381.02" width="1.05" height="1.05"/>
<rect x="482.91" y="381.97" width="1.05" height="1.05"/>
<rect x="482.91" y="382.93" width="1.05" height="1.05"/>
<rect x="482.91" y="384.84" width="1.05" height="1.05"/>
<rect x="482.91" y="385.79" width="1.05" height="1.05"/>
<rect x="483.86" y="364.79" width="1.05" height="1.05"/>
<rect x="483.86" y="365.75" width="1.05" height="1.05"/>
<rect x="483.86" y="366.70" width="1.05" height="1.05"/>
<rect x="483.86" y="367.65" width="1.05" height="1.05"/>
<rect x="483.86" y="369.56" width="1.05" height="1.05"/>
<rect x="483.86" y="372.43" width="1.05" height="1.05"/>
<rect x="483.86" y="373.38" width="1.05" height="1.05"/>
<rect x="483.86" y="375.29" width="1.05" height="1.05"/>
<rect x="483.86" y="377.20" width="1.05" height="1.05"/>
<rect x="483.86" y="378.15" width="1.05" height="1.05"/>
<rect x="483.86" y="380.06" width="1.05" height="1.05"/>
<rect x="483.86" y="381.97" width="1.05" height="1.05"/>
<rect x="483.86" y="382.93" width="1.05" height="1.05"/>
<rect x="483.86" y="383.88" width="1.05" height="1.05"/>
<rect x="483.86" y="384.84" width="1.05" height="1.05"/>
<rect x="484.82" y="363.84" width="1.05" height="1.05"/>
<rect x="484.82" y="364.79" width="1.05" height="1.05"/>
<rect x="484.82" y="365.75" width="1.05" height="1.05"/>
<rect x="484.82" y="367.65" width="1.05" height="1.05"/>
<rect x="484.82" y="368.61" width="1.05" height="1.05"/>
<rect x="484.82" y="369.56" width="1.05" height="1.05"/>
<rect x="484.82" y="370.52" width="1.05" height="1.05"/>
<rect x="484.82" y="376.25" width="1.05" height="1.05"/>
<rect x="484.82" y="377.20" width="1.05" height="1.05"/>
<rect x="484.82" y="380.06" width="1.05" height="1.05"/>
<rect x="484.82" y="381.97" width="1.05" height="1.05"/>
<rect x="484.82" y="382.93" width="1.05" height="1.05"/>
<rect x="484.82" y="383.88" width="1.05" height="1.05"/>
<rect x="484.82" y="384.84" width="1.05" height="1.05"/>
<rect x="484.82" y="385.79" width="1.05" height="1.05"/>
<rect x="484.82" y="386.75" width="1.05" height="1.05"/>
<rect x="485.77" y="363.84" width="1.05" height="1.05"/>
<rect x="485.77" y="365.75" width="1.05" height="1.05"/>
<rect x="485.77" y="367.65" width="1.05" height="1.05"/>
<rect x="485.77" y="368.61" width="1.05" height="1.05"/>
<rect x="485.77" y="371.47" width="1.05" height="1.05"/>
<rect x="485.77" y="372.43" width="1.05" height="1.05"/>
<rect x="485.77" y="373.38" width="1.05" height="1.05"/>
<rect x="485.77" y="374.34" width="1.05" height="1.05"/>
<rect x="485.77" y="376.25" width="1.05" height="1.05"/>
<rect x="485.77" y="377.20" width="1.05" height="1.05"/>
<rect x="485.77" y="379.11" width="1.05" height="1.05"/>
<rect x="485.77" y="380.06" width="1.05" height="1.05"/>
<rect x="485.77" y="382.93" width="1.05" height="1.05"/>
<rect x="485.77" y="383.88" width="1.05" height="1.05"/>
<rect x="485.77" y="384.84" width="1.05" height="1.05"/>
<rect x="485.77" y="386.75" width="1.05" height="1.05"/>
<rect x="486.73" y="365.75" width="1.05" height="1.05"/>
<rect x="486.73" y="366.70" width="1.05" height="1.05"/>
<rect x="486.73" y="369.56" width="1.05" height="1.05"/>
<rect x="486.73" y="371.47" width="1.05" height="1.05"/>
<rect x="486.73" y="372.43" width="1.05" height="1.05"/>
<rect x="486.73" y="373.38" width="1.05" height="1.05"/>
<rect x="486.73" y="378.15" width="1.05" height="1.05"/>
<rect x="486.73" y="379.11" width="1.05" height="1.05"/>
<rect x="486.73" y="380.06" width="1.05" height="1.05"/>
<rect x="486.73" y="382.93" width="1.05" height="1.05"/>
<rect x="486.73" y="383.88" width="1.05" height="1.05"/>
<rect x="486.73" y="384.84" width="1.05" height="1.05"/>
<rect x="486.73" y="385.79" width="1.05" height="1.05"/>
<rect x="487.68" y="363.84" width="1.05" height="1.05"/>
<rect x="487.68" y="369.56" width="1.05" height="1.05"/>
<rect x="487.68" y="370.52" width="1.05" height="1.05"/>
<rect x="487.68" y="371.47" width="1.05" height="1.05"/>
<rect x="487.68" y="373.38" width="1.05" height="1.05"/>
<rect x="487.68" y="374.34" width="1.05" height="1.05"/>
<rect x="487.68" y="376.25" width="1.05" height="1.05"/>
<rect x="487.68" y="377.20" width="1.05" height="1.05"/>
<rect x="487.68" y="378.15" width="1.05" height="1.05"/>
<rect x="487.68" y="380.06" width="1.05" height="1.05"/>
<rect x="487.68" y="383.88" width="1.05" height="1.05"/>
<rect x="487.68" y="384.84" width="1.05" height="1.05"/>
<rect x="487.68" y="385.79" width="1.05" height="1.05"/>
<rect x="487.68" y="386.75" width="1.05" height="1.05"/>
<rect x="488.64" y="364.79" width="1.05" height="1.05"/>
<rect x="488.64" y="365.75" width="1.05" height="1.05"/>
<rect x="488.64" y="366.70" width="1.05" height="1.05"/>
<rect x="488.64" y="372.43" width="1.05" height="1.05"/>
<rect x="488.64" y="374.34" width="1.05" height="1.05"/>
<rect x="488.64" y="376.25" width="1.05" height="1.05"/>
<rect x="488.64" y="378.15" width="1.05" height="1.05"/>
<rect x="488.64" y="379.11" width="1.05" height="1.05"/>
<rect x="488.64" y="380.06" width="1.05" height="1.05"/>
<rect x="488.64" y="381.02" width="1.05" height="1.05"/>
<rect x="488.64" y="383.88" width="1.05" height="1.05"/>
<rect x="488.64" y="384.84" width="1.05" height="1.05"/>
<rect x="488.64" y="386.75" width="1.05" height="1.05"/>
<rect x="489.59" y="363.84" width="1.05" height="1.05"/>
<rect x="489.59" y="367.65" width="1.05" height="1.05"/>
<rect x="489.59" y="368.61" width="1.05" height="1.05"/>
<rect x="489.59" y="372.43" width="1.05" height="1.05"/>
<rect x="489.59" y="373.38" width="1.05" height="1.05"/>
<rect x="489.59" y="374.34" width="1.05" height="1.05"/>
<rect x="489.59" y="375.29" width="1.05" height="1.05"/>
<rect x="489.59" y="379.11" width="1.05" height="1.05"/>
<rect x="489.59" y="381.02" width="1.05" height="1.05"/>
<rect x="489.59" y="381.97" width="1.05" height="1.05"/>
<rect x="489.59" y="384.84" width="1.05" height="1.05"/>
<rect x="490.55" y="363.84" width="1.05" height="1.05"/>
<rect x="490.55" y="364.79" width="1.05" height="1.05"/>
<rect x="490.55" y="365.75" width="1.05" height="1.05"/>
<rect x="490.55" y="366.70" width="1.05" height="1.05"/>
<rect x="490.55" y="367.65" width="1.05" height="1.05"/>
<rect x="490.55" y="370.52" width="1.05" height="1.05"/>
<rect x="490.55" y="371.47" width="1.05" height="1.05"/>
<rect x="490.55" y="372.43" width="1.05" height="1.05"/>
<rect x="490.55" y="374.34" width="1.05" height="1.05"/>
<rect x="490.55" y="375.29" width="1.05" height="1.05"/>
<rect x="490.55" y="376.25" width="1.05" height="1.05"/>
<rect x="490.55" y="378.15" width="1.05" height="1.05"/>
<rect x="490.55" y="379.11" width="1.05" height="1.05"/>
<rect x="490.55" y="380.06" width="1.05" height="1.05"/>
<rect x="490.55" y="381.02" width="1.05" height="1.05"/>
<rect x="490.55" y="383.88" width="1.05" height="1.05"/>
<rect x="490.55" y="384.84" width="1.05" height="1.05"/>
<rect x="490.55" y="386.75" width="1.05" height="1.05"/>
<rect x="460.48" y="356.68" width="5.73" height="5.73" fill="none" stroke="#262626" stroke-width="0.95"/>
<rect x="461.91" y="358.11" width="2.86" height="2.86"/>
<rect x="485.30" y="356.68" width="5.73" height="5.73" fill="none" stroke="#262626" stroke-width="0.95"/>
<rect x="486.73" y="358.11" width="2.86" height="2.86"/>
<rect x="460.48" y="381.50" width="5.73" height="5.73" fill="none" stroke="#262626" stroke-width="0.95"/>
<rect x="461.91" y="382.93" width="2.86" height="2.86"/>
<rect x="483.39" y="379.59" width="3.82" height="3.82" fill="none" stroke="#262626" stroke-width="0.95"/>
</g>
</g>
<!-- Titles -->
<text x="41.8" y="28.4" font-size="18" font-weight="bold" fill="#1865b2" stroke="#1865b2" stroke-width="0.35" textLength="288" lengthAdjust="spacingAndGlyphs">МОНТАЖ И ЭКСПЛУАТАЦИЯ</text>
<text x="42.3" y="60.2" font-size="13" font-weight="bold" fill="#2a2220" stroke="#2a2220" stroke-width="0.2" textLength="427.5" lengthAdjust="spacingAndGlyphs">ГАБАРИТНЫЕ И УСТАНОВОЧНЫЕ РАЗМЕРЫ (единицы: мм)</text>

<!-- LEFT DIMENSIONS -->
<g stroke="#4e4e4e" stroke-width="1" fill="none">
  <line x1="101.5" y1="106" x2="101.5" y2="208"/>
  <line x1="147.5" y1="189" x2="147.5" y2="208"/>
  <line x1="193.5" y1="163" x2="193.5" y2="208"/>
  <line x1="239.5" y1="132" x2="239.5" y2="208"/>
  <line x1="285.5" y1="106" x2="285.5" y2="208"/>
  <line x1="102" y1="113.5" x2="285" y2="113.5" marker-start="url(#ar)" marker-end="url(#ar)"/>
  <line x1="102" y1="139.5" x2="239" y2="139.5" marker-start="url(#ar)" marker-end="url(#ar)"/>
  <line x1="102" y1="169.5" x2="193" y2="169.5" marker-start="url(#ar)" marker-end="url(#ar)"/>
  <line x1="102" y1="195.5" x2="147" y2="195.5" marker-start="url(#ar)" marker-end="url(#ar)"/>
</g>
<g fill="#333" font-size="11" stroke="#333" stroke-width="0.15">
  <text x="94" y="118" text-anchor="end">3P+N, 4P</text>
  <text x="94" y="144" text-anchor="end">3P</text>
  <text x="94" y="174" text-anchor="end">1P+N, 2P</text>
  <text x="94" y="200" text-anchor="end">1P</text>
  <text x="180.5" y="106">72</text>
  <text x="161.5" y="134">54</text>
  <text x="136.5" y="163">36</text>
  <text x="111.5" y="189">18</text>
</g>
<g fill="#333" font-size="7.9" stroke="#333" stroke-width="0.1">
  <text x="195" y="97">0</text><text x="193" y="107.6">-1.20</text>
  <text x="177" y="125">0</text><text x="175.5" y="135.6">-1.20</text>
  <text x="152" y="155.5">0</text><text x="150.5" y="165.5">-0.62</text>
  <text x="127" y="183">0</text><text x="125" y="190.5">-0.43</text>
</g>

<!-- RIGHT DIMENSIONS -->
<g stroke="#4e4e4e" stroke-width="1" fill="none">
  <line x1="406.5" y1="144" x2="406.5" y2="219"/>
  <line x1="595.5" y1="144" x2="595.5" y2="261"/>
  <line x1="515.5" y1="190" x2="515.5" y2="212"/>
  <line x1="407" y1="150.5" x2="595" y2="150.5" marker-start="url(#ar)" marker-end="url(#ar)"/>
  <line x1="407" y1="197.5" x2="515" y2="197.5" marker-start="url(#ar)" marker-end="url(#ar)"/>
  <line x1="367" y1="208.5" x2="480" y2="208.5"/>
  <line x1="367" y1="412.5" x2="480" y2="412.5"/>
  <line x1="373.5" y1="209" x2="373.5" y2="412" marker-start="url(#ar)" marker-end="url(#ar)"/>
  <line x1="408.5" y1="405" x2="408.5" y2="446"/>
  <line x1="574.5" y1="368" x2="574.5" y2="445"/>
  <line x1="409" y1="439.5" x2="574" y2="439.5" marker-start="url(#ar)" marker-end="url(#ar)"/>
  <line x1="576" y1="252.5" x2="639" y2="252.5"/>
  <line x1="574" y1="368.5" x2="639" y2="368.5"/>
  <line x1="633.5" y1="253" x2="633.5" y2="368" marker-start="url(#ar)" marker-end="url(#ar)"/>
</g>
<g fill="#333" font-size="11" stroke="#333" stroke-width="0.15">
  <text x="456.5" y="142">77.8</text>
  <text x="456.5" y="167.5">76.8</text>
  <text x="429.5" y="194">42.5±0.31</text>
  <text x="460" y="436.7">65.5±0.37</text>
  <text transform="translate(362,339.5) rotate(-90)">81</text>
  <text transform="translate(627.8,314.2) rotate(-90)" text-anchor="middle">45±0.31</text>
</g>
<g fill="#333" font-size="7.9" stroke="#333" stroke-width="0.1">
  <text x="481.5" y="134">0</text><text x="480" y="144">-1.20</text>
  <text x="481.5" y="159.5">0</text><text x="480" y="170">-1.20</text>
  <text transform="translate(356.6,324) rotate(-90)">0</text>
  <text transform="translate(367.3,324.6) rotate(-90)">-1.20</text>
</g>
</svg>
</body></html>
